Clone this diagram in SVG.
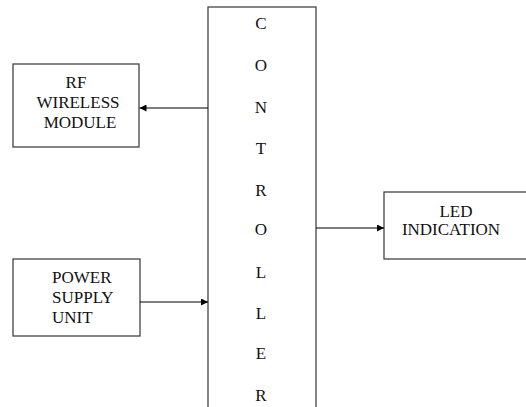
<svg xmlns="http://www.w3.org/2000/svg" width="526" height="407" viewBox="0 0 526 407">
<defs>
<marker id="ah" viewBox="0 0 10 10" refX="10" refY="5" markerWidth="8" markerHeight="7" markerUnits="userSpaceOnUse" orient="auto">
<path d="M0,0 L10,5 L0,10 z" fill="#000"/>
</marker>
<style>
.box{fill:#fff;stroke:#444;stroke-width:1.3}
.t{font-family:"Liberation Serif","Times New Roman",serif;font-size:17px;fill:#111}
.c{text-anchor:middle}
.ln{stroke:#000;stroke-width:1.2;fill:none;marker-end:url(#ah)}
</style>
</defs>
<rect width="526" height="407" fill="#fff"/>
<g id="controller">
<rect class="box" x="208" y="7" width="108" height="410"/>
<text class="t c" x="261" y="29">C</text>
<text class="t c" x="261" y="71">O</text>
<text class="t c" x="261" y="113">N</text>
<text class="t c" x="261" y="154">T</text>
<text class="t c" x="261" y="196">R</text>
<text class="t c" x="261" y="235">O</text>
<text class="t c" x="261" y="278">L</text>
<text class="t c" x="261" y="319">L</text>
<text class="t c" x="261" y="359">E</text>
<text class="t c" x="261" y="401">R</text>
</g>
<g id="rf">
<rect class="box" x="13" y="64" width="126" height="83"/>
<text class="t c" x="76" y="88">RF</text>
<text class="t c" x="78" y="108">WIRELESS</text>
<text class="t c" x="80" y="128">MODULE</text>
</g>
<g id="power">
<rect class="box" x="13" y="259" width="127" height="77"/>
<text class="t" x="52" y="283">POWER</text>
<text class="t" x="52" y="303">SUPPLY</text>
<text class="t" x="52" y="323">UNIT</text>
</g>
<g id="led">
<rect class="box" x="384" y="192" width="150" height="67"/>
<text class="t c" x="456" y="217">LED</text>
<text class="t c" x="451" y="235">INDICATION</text>
</g>
<g id="connectors">
<line class="ln" x1="208" y1="108" x2="139.5" y2="108"/>
<line class="ln" x1="140" y1="302" x2="208" y2="302"/>
<line class="ln" x1="316" y1="228" x2="384" y2="228"/>
</g>
</svg>
